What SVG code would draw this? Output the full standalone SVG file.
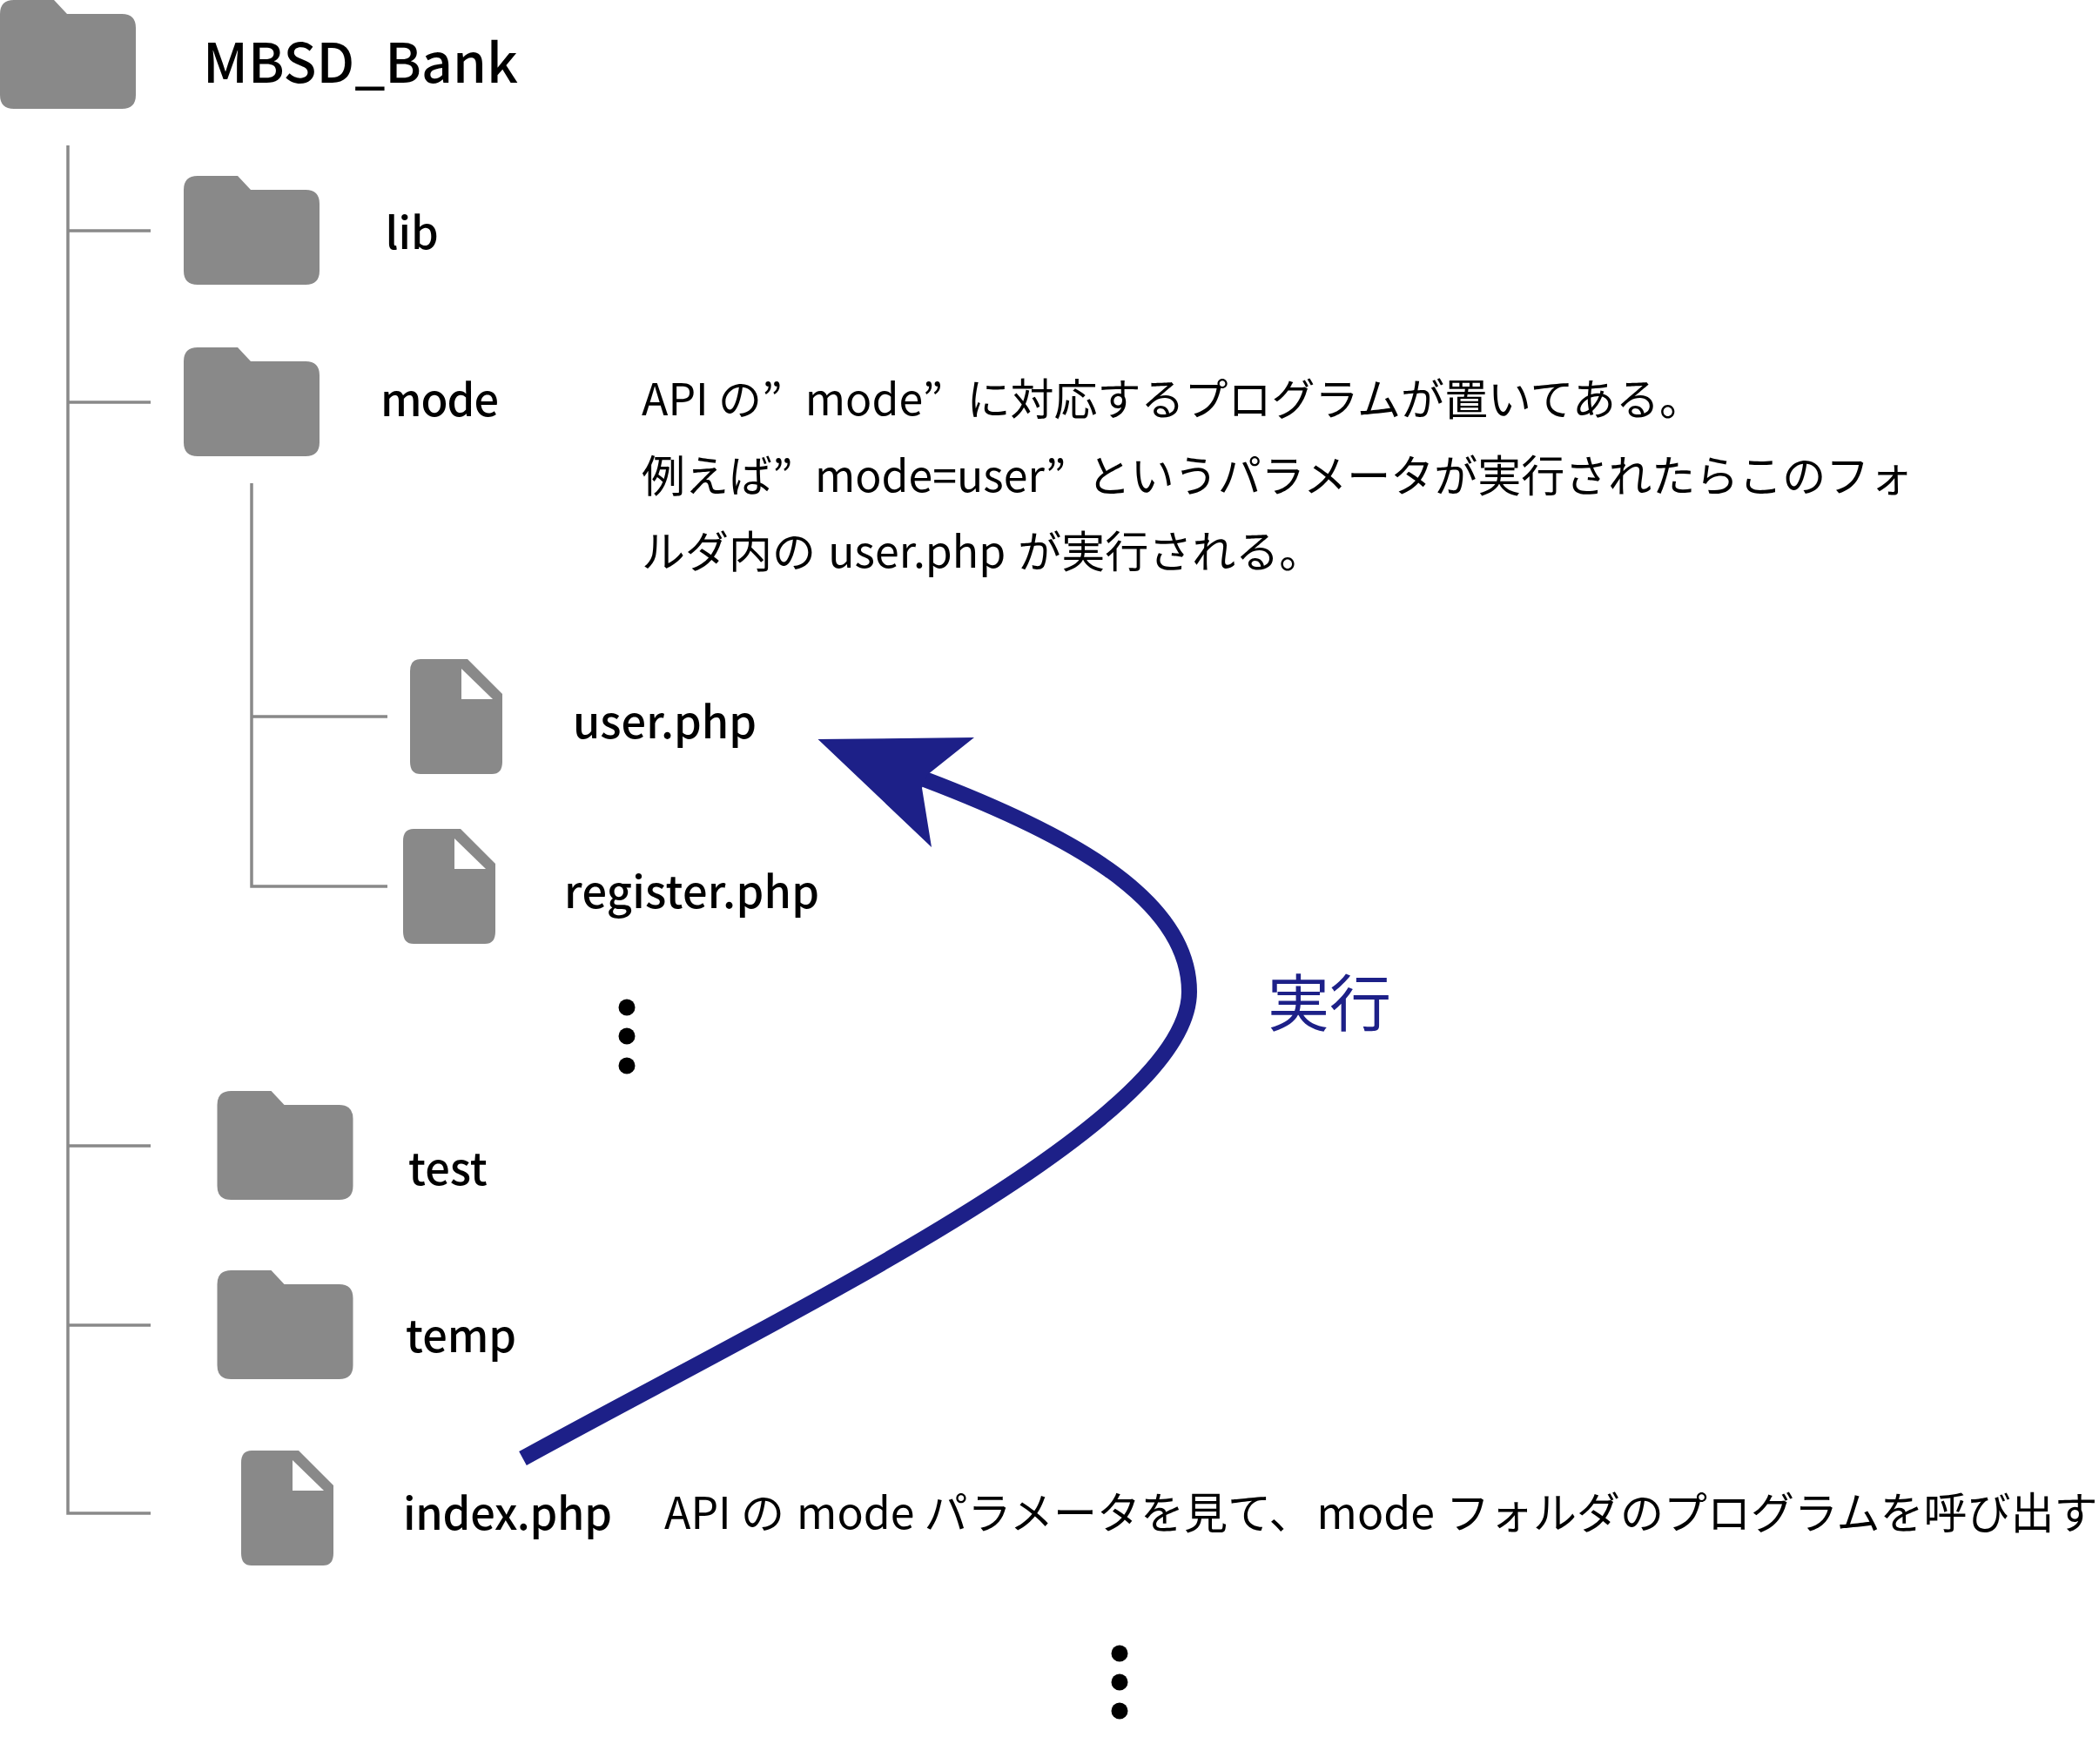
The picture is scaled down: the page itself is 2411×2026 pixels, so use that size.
<svg xmlns="http://www.w3.org/2000/svg" width="2411" height="2026" viewBox="0 0 2411 2026">
<style>
text{font-family:"Noto Sans CJK JP","Noto Sans",sans-serif;fill:#000}
.n{font-size:50.5px;font-weight:500}
.d{font-size:50px;font-weight:400}
.g{fill:#898989}
.l{fill:none;stroke:#898989;stroke-width:3.5}
</style>
<defs>
<path id="folder" class="g" d="M16 0H62L77 16H140Q156 16 156 32V109Q156 125 140 125H16Q0 125 0 109V16Q0 0 16 0Z"/>
<g id="file"><path class="g" d="M12 0H66L106 40V118Q106 132 94 132H12Q0 132 0 118V14Q0 0 12 0Z"/><path fill="#fff" d="M59 11V46H95Z"/></g>
</defs>
<rect width="2411" height="2026" fill="#fff"/>
<g id="connectors">
<path class="l" d="M78 167V1738H173M78 265H173M78 462H173M78 1316H173M78 1522H173M289 555V1018H445M289 823H445"/>
<path d="M600.5 1675C900 1510 1366 1290 1366 1139C1366 1030 1220 955 1062 895" fill="none" stroke="#1d2088" stroke-width="18"/>
<path d="M939.5 849L1119 847L1065 890L1059 905L1070 973Z" fill="#1d2088"/>
</g>
<g id="node-root"><use href="#folder" x="0" y="0"/><text x="233" y="95" font-size="62.5" font-weight="500">MBSD_Bank</text></g>
<g id="node-lib"><use href="#folder" x="211" y="202"/><text class="n" x="442.500" y="286">lib</text></g>
<g id="node-mode"><use href="#folder" x="211" y="399"/><text class="n" x="437" y="478" textLength="136">mode</text></g>
<g id="note-mode">
<text class="d" x="737" y="477">API の”<tspan dx="15"> mode”</tspan><tspan dx="16"> に対応するプログラムが置いてある。</tspan></text>
<text class="d" x="737" y="565">例えば”<tspan dx="14"> mode=user”</tspan><tspan dx="13"> というパラメータが実行されたらこのフォ</tspan></text>
<text class="d" x="737" y="652">ルダ内の<tspan dx="3"> user.php</tspan><tspan dx="3"> が実行される。</tspan></text>
</g>
<g id="node-user"><use href="#file" x="471" y="757"/><text class="n" x="658" y="848">user.php</text></g>
<g id="node-register"><use href="#file" x="463" y="952"/><text class="n" x="648" y="1043" textLength="293">register.php</text></g>
<g id="dots-mode"><circle cx="720" cy="1157" r="9.5"/><circle cx="720" cy="1190" r="9.5"/><circle cx="720" cy="1224" r="9.5"/></g>
<g id="node-test"><use href="#folder" x="249.500" y="1253"/><text class="n" x="469" y="1361">test</text></g>
<g id="node-temp"><use href="#folder" x="249.500" y="1459"/><text class="n" x="466" y="1553">temp</text></g>
<g id="node-index"><use href="#file" x="277" y="1666"/><text class="n" x="463" y="1757" textLength="240">index.php</text></g>
<text id="note-index" class="d" x="763" y="1756">API の<tspan dx="3"> mode パラメータを見て、</tspan><tspan dx="5">mode</tspan><tspan dx="2"> フォルダのプログラムを呼び出す</tspan></text>
<text id="label-run" x="1456" y="1178" font-size="71" style="fill:#1d2088">実行</text>
<g id="dots-bottom"><circle cx="1286" cy="1899" r="9.5"/><circle cx="1286" cy="1932" r="9.5"/><circle cx="1286" cy="1965" r="9.5"/></g>
</svg>
